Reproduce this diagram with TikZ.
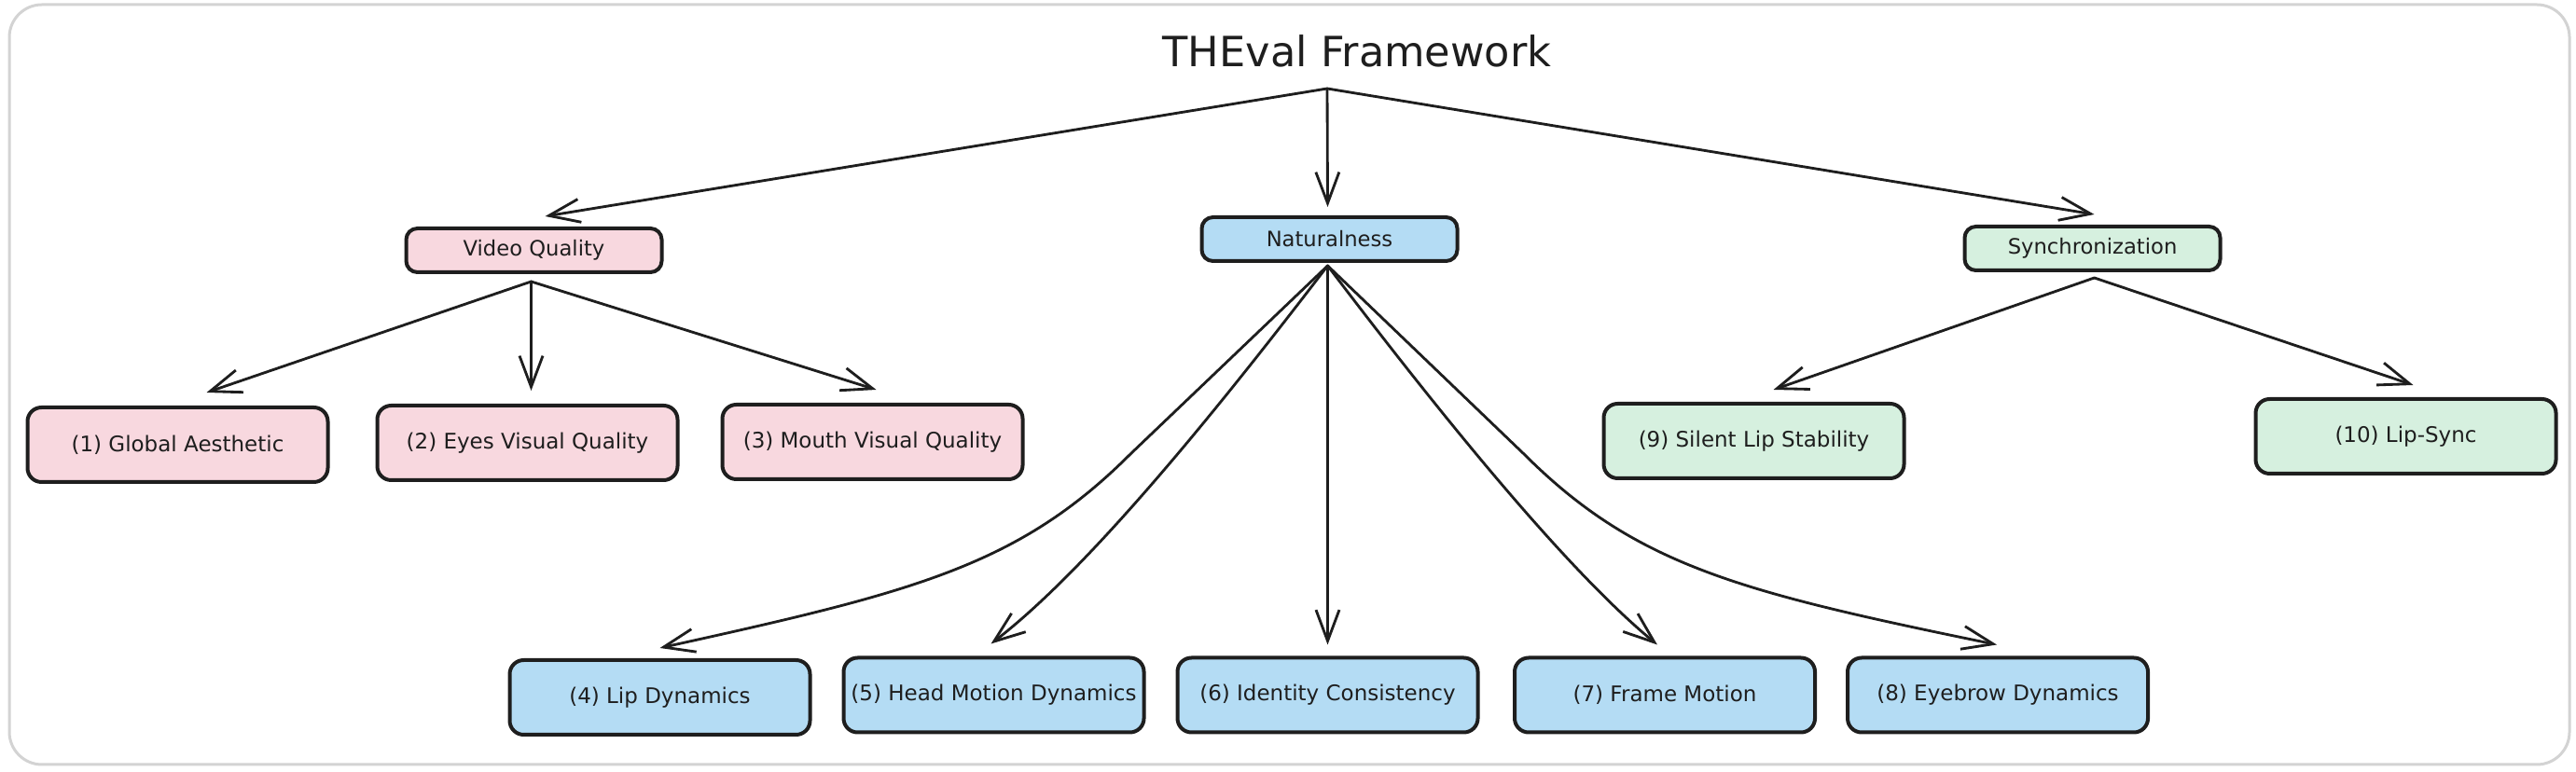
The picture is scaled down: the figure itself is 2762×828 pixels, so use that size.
\documentclass[tikz,border=0pt]{standalone}
\usepackage{fontspec}
\setmainfont{DejaVu Sans}
\usetikzlibrary{arrows.meta,calc}
\definecolor{inkc}{HTML}{1E1E1E}
\definecolor{pinkf}{HTML}{F8D8DF}
\definecolor{bluef}{HTML}{B4DCF4}
\definecolor{greenf}{HTML}{D6F0DF}
\definecolor{framec}{HTML}{D3D3D3}
\tikzset{
  midbox/.style={draw=inkc, line width=1.2pt, rounded corners=3.6pt,
    minimum width=82.2pt, minimum height=14.1pt, inner sep=0pt,
    text=inkc, font=\fontsize{6.8}{8}\selectfont},
  leafbox/.style={draw=inkc, line width=1.2pt, rounded corners=4.5pt,
    minimum width=96.6pt, minimum height=24pt, inner sep=0pt,
    text=inkc, font=\fontsize{6.9}{8}\selectfont},
  conn/.style={draw=inkc, line width=0.85pt, line cap=round, line join=round,
    -{Straight Barb[length=10pt,width=7.5pt,line width=0.85pt]}},
}
\begin{document}
\begin{tikzpicture}[x=0.3pt,y=-0.3pt]
\useasboundingbox (0,0) rectangle (2762,828);
\draw[framec, line width=0.9pt, rounded corners=10.5pt] (10,5) rectangle (2755,820);

\node[anchor=base, text=inkc, font=\fontsize{13.4}{16}\selectfont] (title) at (1455,72) {THEval Framework};
\coordinate (root) at (1423,95);

\node[midbox, fill=pinkf] (vq) at (572.5,268.5) {Video Quality};
\node[midbox, fill=bluef] (nat) at (1425.5,256.5) {Naturalness};
\node[midbox, fill=greenf] (sync) at (2243.5,266.5) {Synchronization};

\node[leafbox, fill=pinkf] (g1) at (190.5,477) {(1) Global Aesthetic};
\node[leafbox, fill=pinkf] (g2) at (565.5,475) {(2) Eyes Visual Quality};
\node[leafbox, fill=pinkf] (g3) at (935.5,474) {(3) Mouth Visual Quality};

\node[leafbox, fill=bluef] (g4) at (707.5,748) {(4) Lip Dynamics};
\node[leafbox, fill=bluef] (g5) at (1065.5,745.5) {(5) Head Motion Dynamics};
\node[leafbox, fill=bluef] (g6) at (1423.5,745.5) {(6) Identity Consistency};
\node[leafbox, fill=bluef] (g7) at (1785,745.5) {(7) Frame Motion};
\node[leafbox, fill=bluef] (g8) at (2142,745.5) {(8) Eyebrow Dynamics};

\node[leafbox, fill=greenf] (g9) at (1880.5,473) {(9) Silent Lip Stability};
\node[leafbox, fill=greenf] (g10) at (2579.5,468) {(10) Lip-Sync};

% root level
\draw[conn] (root) -- ($(vq.north)+(12,-11)$);
\draw[conn] (root) -- ($(nat.north)+(-2,-9)$);
\draw[conn] (root) -- ($(sync.north)+(2,-11)$);

% video quality
\coordinate (vqs) at ($(vq.south)+(-3,8)$);
\draw[conn] (vqs) -- ($(g1.north)+(31,-14)$);
\draw[conn] (vqs) -- ($(g2.north)+(4,-14)$);
\draw[conn] (vqs) -- ($(g3.north)+(4,-14)$);

% naturalness
\coordinate (nats) at ($(nat.south)+(-2,3)$);
\draw[conn] (nats) -- (1212,487) .. controls (1092,607) and (980,635) .. ($(g4.north)+(0,-11)$);
\draw[conn] (nats) .. controls (1333,403) and (1178,602) .. ($(g5.north)+(-3,-13)$);
\draw[conn] (nats) -- ($(g6.north)+(0,-12)$);
\draw[conn] (nats) .. controls (1513,403) and (1668,602) .. ($(g7.north)+(-8,-12)$);
\draw[conn] (nats) -- (1634,487) .. controls (1754,607) and (1866,635) .. ($(g8.north)+(-1,-12)$);

% synchronization
\coordinate (syncs) at ($(sync.south)+(2,6)$);
\draw[conn] (syncs) -- ($(g9.north)+(21,-13)$);
\draw[conn] (syncs) -- ($(g10.north)+(8,-13)$);
\end{tikzpicture}
\end{document}
